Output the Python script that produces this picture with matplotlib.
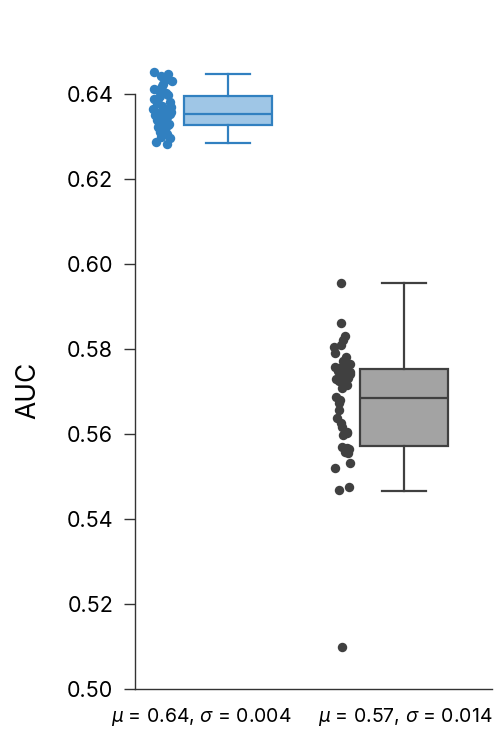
import numpy as np
import matplotlib
matplotlib.use("Agg")
import matplotlib.pyplot as plt
import seaborn as sns

# AUC values per model
auc_a = [0.6452, 0.6447, 0.6444, 0.6437, 0.6432, 0.6424, 0.6420, 0.6413, 0.6411, 0.6404,
         0.6402, 0.6398, 0.6396, 0.6390, 0.6388, 0.6382, 0.6379, 0.6373, 0.6371, 0.6365,
         0.6363, 0.6358, 0.6357, 0.6354, 0.6353, 0.6351, 0.6348, 0.6347, 0.6344, 0.6341,
         0.6340, 0.6337, 0.6336, 0.6333, 0.6332, 0.6330, 0.6329, 0.6327, 0.6325, 0.6323,
         0.6320, 0.6317, 0.6316, 0.6312, 0.6308, 0.6306, 0.6300, 0.6297, 0.6289, 0.6282]
auc_b = [0.5957, 0.5861, 0.5832, 0.5822, 0.5810, 0.5805, 0.5791, 0.5782, 0.5773, 0.5768,
         0.5765, 0.5761, 0.5758, 0.5756, 0.5751, 0.5749, 0.5747, 0.5742, 0.5740, 0.5736,
         0.5733, 0.5730, 0.5726, 0.5724, 0.5716, 0.5710, 0.5688, 0.5681, 0.5673, 0.5657,
         0.5638, 0.5626, 0.5618, 0.5606, 0.5602, 0.5598, 0.5571, 0.5568, 0.5565, 0.5559,
         0.5555, 0.5532, 0.5520, 0.5477, 0.5469, 0.5100]

# box summary (whislo, q1, median, q3, whishi)
box_a = [0.6286, 0.6327, 0.6353, 0.6397, 0.6449]
box_b = [0.5467, 0.5572, 0.5686, 0.5754, 0.5957]
outliers_b = [0.5100]

tick_labels = [r"$\mu$ = 0.64, $\sigma$ = 0.004", r"$\mu$ = 0.57, $\sigma$ = 0.014"]
ytick_vals = [0.50, 0.52, 0.54, 0.56, 0.58, 0.60, 0.62, 0.64]

blue, blue_face = "#3180c0", "#9fc6e6"
grey, grey_face = "#404040", "#a3a3a3"

plt.rcParams["font.family"] = ["Inter", "DejaVu Sans"]
plt.rcParams["mathtext.fontset"] = "custom"
plt.rcParams["mathtext.rm"] = "Inter"
plt.rcParams["mathtext.it"] = "Inter:italic"
plt.rcParams["text.color"] = "#222222"

# seaborn jitters with the global numpy generator; fix it so reruns match
np.random.seed(7)

fig = plt.figure(figsize=(4.98, 7.32), dpi=100)
ax = fig.add_axes([0.271, 0.0583, 0.717, 0.8825])

# strips
sns.stripplot(x=[0.077] * len(auc_a), y=auc_a, native_scale=True, jitter=0.027,
              color=blue, size=6.8, linewidth=0, ax=ax, zorder=3)
sns.stripplot(x=[0.581] * len(auc_b), y=auc_b, native_scale=True, jitter=0.024,
              color=grey, size=6.8, linewidth=0, ax=ax, zorder=3)

# boxes
stats = []
for b, fl in [(box_a, []), (box_b, outliers_b)]:
    stats.append(dict(whislo=b[0], q1=b[1], med=b[2], q3=b[3], whishi=b[4], fliers=fl))

for st, pos, ec, fc in [(stats[0], 0.2605, blue, blue_face), (stats[1], 0.754, grey, grey_face)]:
    ax.bxp([st], positions=[pos], widths=0.245, patch_artist=True, showfliers=False,
           boxprops=dict(facecolor=fc, edgecolor=ec, linewidth=1.6),
           medianprops=dict(color=ec, linewidth=1.6),
           whiskerprops=dict(color=ec, linewidth=1.6),
           capprops=dict(color=ec, linewidth=1.6), manage_ticks=False)

ax.set_xlim(0, 1)
ax.set_ylim(0.5, 0.652)
ax.set_yticks(ytick_vals)
ax.set_yticklabels([f"{v:.2f}" for v in ytick_vals])
ax.set_xticks([0.187, 0.758])
ax.set_xticklabels(tick_labels, fontsize=14)
ax.tick_params(axis="x", length=0, pad=12)
ax.tick_params(axis="y", length=7.7, width=1.0, pad=8, labelsize=15.5, color="#333333")

for s in ["top", "right"]:
    ax.spines[s].set_visible(False)
for s in ["left", "bottom"]:
    ax.spines[s].set_color("#333333")
    ax.spines[s].set_linewidth(1.0)
ax.spines["left"].set_bounds(0.5, 0.64)

ax.set_ylabel("AUC", fontsize=19)
ax.yaxis.set_label_coords(-0.261, 0.4625)

fig.savefig("out.png", dpi=100)
